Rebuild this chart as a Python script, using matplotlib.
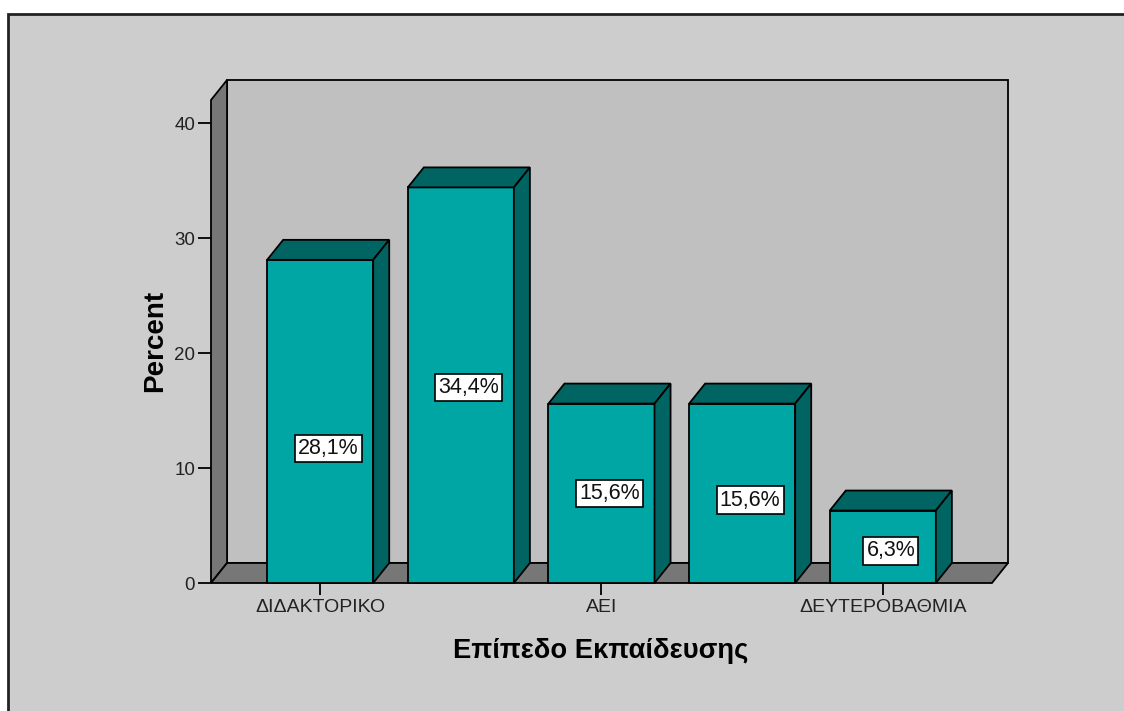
import matplotlib.pyplot as plt
from matplotlib.patches import Polygon, Rectangle

plt.rcParams['font.family'] = ['Liberation Sans', 'DejaVu Sans']

# percentages per education level
percent = [28.1, 34.4, 15.6, 15.6, 6.3]
tick_labels = ['ΔΙΔΑΚΤΟΡΙΚΟ', '', 'ΑΕΙ', '', 'ΔΕΥΤΕΡΟΒΑΘΜΙΑ']
value_labels = ['28,1%', '34,4%', '15,6%', '15,6%', '6,3%']
yticks = [0, 10, 20, 30, 40]

# where the value boxes sit on each bar (percent units)
label_pos = [11.7, 17.0, 7.8, 7.2, 2.8]

bg = '#cdcdcd'
wall = '#c0c0c0'
dark_wall = '#777777'
bar_front = '#00a6a3'
bar_dark = '#006462'

fig = plt.figure(figsize=(11.24, 7.11), dpi=100)
fig.patch.set_facecolor('white')
fig.patches.append(Rectangle((8 / 1124, -0.1), 1.5, (711 - 14) / 711 + 0.1,
                             transform=fig.transFigure, facecolor=bg,
                             edgecolor='#222222', linewidth=2, zorder=-1))

# fake 3d: x0..x1 is the front floor edge, (dx, dy) the depth offset
x0, x1 = 0.224, 5.776
dx, dy = 0.114, 1.74
ytop = 42
width = 0.754

ax = fig.add_axes([211 / 1124, 128 / 711, 797 / 1124, 503 / 711])
ax.set_xlim(x0, x1 + dx)
ax.set_ylim(0, ytop + dy)
ax.patch.set_visible(False)
for s in ax.spines.values():
    s.set_visible(False)

def face(pts, color, z=1):
    ax.add_patch(Polygon(pts, closed=True, facecolor=color, edgecolor='black',
                         linewidth=1.3, zorder=z, clip_on=False))

# back wall, side wall and floor
face([(x0 + dx, dy), (x1 + dx, dy), (x1 + dx, ytop + dy), (x0 + dx, ytop + dy)], wall)
face([(x0, 0), (x0 + dx, dy), (x0 + dx, ytop + dy), (x0, ytop)], dark_wall)
face([(x0, 0), (x1, 0), (x1 + dx, dy), (x0 + dx, dy)], dark_wall)

xs = list(range(1, len(percent) + 1))
for x, v, lab, ly in zip(xs, percent, value_labels, label_pos):
    l, r = x - width / 2, x + width / 2
    face([(l, 0), (r, 0), (r, v), (l, v)], bar_front, 3)
    face([(l, v), (r, v), (r + dx, v + dy), (l + dx, v + dy)], bar_dark, 3)
    face([(r, 0), (r + dx, dy), (r + dx, v + dy), (r, v)], bar_dark, 3)
    ax.text(x + dx / 2, ly, lab, ha='center', va='center', fontsize=15.5,
            color='#111111', zorder=5,
            bbox=dict(boxstyle='square,pad=0.15', facecolor='white',
                      edgecolor='black', linewidth=1.2))

ax.set_yticks(yticks)
ax.set_yticklabels([str(t) for t in yticks])
ax.tick_params(axis='y', length=9.4, width=1.3, pad=2, labelsize=13.5,
               labelcolor='#222222')
tick_pos = [x for x, t in zip(xs, tick_labels) if t]
ax.set_xticks(tick_pos)
ax.set_xticklabels([t for t in tick_labels if t])
ax.tick_params(axis='x', length=8.6, width=1.3, pad=3, labelsize=14,
               labelcolor='#222222')

ax.set_ylabel('Percent', fontsize=20, fontweight='bold')
ax.set_xlabel('Επίπεδο Εκπαίδευσης', fontsize=19.7, fontweight='bold')
ax.yaxis.set_label_coords(-0.054, 0.481)
ax.xaxis.set_label_coords(0.489, -0.110)

fig.savefig('out.png', dpi=100, facecolor=fig.get_facecolor())
